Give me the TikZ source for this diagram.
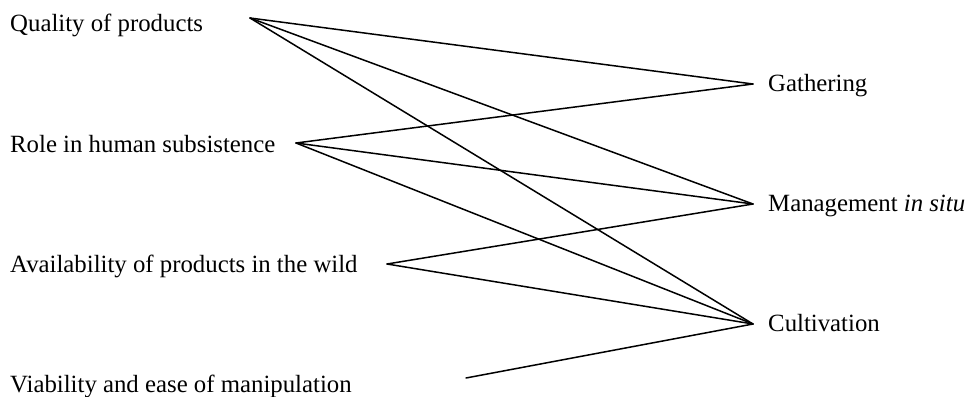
\documentclass[tikz,border=0pt]{standalone}
\usepackage{fontspec}
\setmainfont{Liberation Serif}
\begin{document}
\begin{tikzpicture}[x=1pt,y=-1pt,
  lbl/.style={anchor=base west,inner sep=0pt,font=\fontsize{24.8}{28}\selectfont},
  link/.style={line width=1.5pt,line cap=round}]
\useasboundingbox (0,0) rectangle (971,396);

% factors on the left
\node[lbl] (quality) at (10,32)  {Quality of products};
\node[lbl] (role)    at (10,152) {Role in human subsistence};
\node[lbl] (avail)   at (10,272) {Availability of products in the wild};
\node[lbl] (viab)    at (10,392) {Viability and ease of manipulation};

% practices on the right
\node[lbl] (gath) at (768,91)  {Gathering};
\node[lbl] (mgmt) at (768,211) {Management \textit{in situ}};
\node[lbl] (cult) at (768,331) {Cultivation};

% fan points of the connectors
\coordinate (qP) at (250,18);
\coordinate (rP) at (296,143);
\coordinate (aP) at (387,264);
\coordinate (vP) at (466,378);
\coordinate (gP) at (753,84);
\coordinate (mP) at (753,204);
\coordinate (cP) at (753,324);

\draw[link] (qP) -- (gP);
\draw[link] (qP) -- (mP);
\draw[link] (qP) -- (cP);
\draw[link] (rP) -- (gP);
\draw[link] (rP) -- (mP);
\draw[link] (rP) -- (cP);
\draw[link] (aP) -- (mP);
\draw[link] (aP) -- (cP);
\draw[link] (vP) -- (cP);
\end{tikzpicture}
\end{document}
